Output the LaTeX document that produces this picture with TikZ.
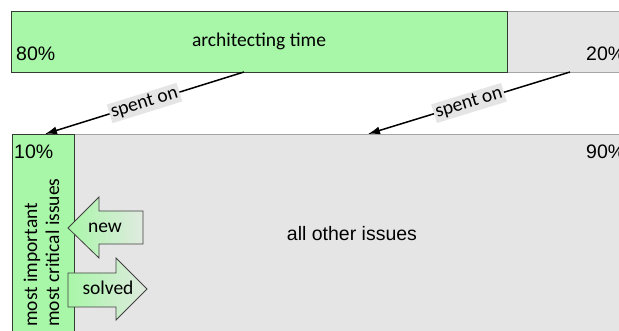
\documentclass[tikz,border=0pt]{standalone}
\usepackage{fontspec}
\setmainfont{Carlito}
\newfontfamily\arialf{Liberation Sans}
\usetikzlibrary{arrows.meta}
\definecolor{grn}{RGB}{168,246,168}
\definecolor{gry}{RGB}{229,229,229}
\definecolor{gryline}{RGB}{165,165,165}
\definecolor{grnline}{RGB}{50,60,50}
\definecolor{pale}{RGB}{224,234,224}
\begin{document}
\begin{tikzpicture}[x=1pt,y=-1pt,
  font=\fontsize{19.5}{23.4}\selectfont,
  txt/.style={inner sep=0pt},
  pct/.style={inner sep=0pt, font=\arialf\fontsize{19.5}{23.4}\selectfont},
  greenbox/.style={draw=grnline, fill=grn, line width=0.9pt, inner sep=0pt, outer sep=0pt, anchor=north west},
  greybox/.style={draw=gryline, fill=gry, line width=0.9pt, inner sep=0pt, outer sep=0pt, anchor=north west},
  conn/.style={line width=1.5pt, -{Latex[length=12pt,width=8pt]}},
  lbl/.style={fill=gry, inner sep=2pt, sloped, pos=0.5},
  blockarrow/.style={draw=black!75, line width=0.8pt, left color=grn, right color=pale}]
\useasboundingbox (0,0) rectangle (619,331);
\clip (0,0) rectangle (619,331);
% top bar
\node[greybox, minimum width=140pt, minimum height=61pt] (rest) at (507,11) {};
\node[greenbox, minimum width=496pt, minimum height=61pt] (arch) at (11,11) {};
\node[txt, anchor=base] (archtxt) at (259,47) {architecting time};
\node[pct, anchor=base west] (p80) at (16,61) {80\%};
\node[pct, anchor=base west] (p20) at (586,61) {20\%};
% bottom box
\node[greybox, minimum width=570pt, minimum height=220pt] (other) at (74,134) {};
\node[greenbox, minimum width=62pt, minimum height=220pt] (crit) at (12,134) {};
\node[pct, anchor=base west] (p10) at (14,159) {10\%};
\node[pct, anchor=base west] (p90) at (586,159) {90\%};
\node[pct, anchor=base] (othertxt) at (352,241) {all other issues};
\node[txt, rotate=90, anchor=base west] (imp) at (37,327) {most important};
\node[txt, rotate=90, anchor=base west] (crittxt) at (59,327) {most critical issues};
% connectors
\coordinate (s1) at (244,72);
\coordinate (e1) at (45,134);
\coordinate (s2) at (570,72);
\coordinate (e2) at (368,134);
\draw[conn] (s1) -- node[lbl] (l1) {spent on} (e1);
\draw[conn] (s2) -- node[lbl] (l2) {spent on} (e2);
% block arrows
\draw[blockarrow] (143,211) -- (99,211) -- (99,197) -- (68,228) -- (99,258) -- (99,244) -- (143,244) -- cycle;
\node[txt, anchor=base] (newtxt) at (105,233) {new};
\draw[blockarrow] (68,273) -- (116,273) -- (116,258) -- (147,289) -- (116,320) -- (116,307) -- (68,307) -- cycle;
\node[txt, anchor=base] (solvedtxt) at (108,295) {solved};
\end{tikzpicture}
\end{document}
